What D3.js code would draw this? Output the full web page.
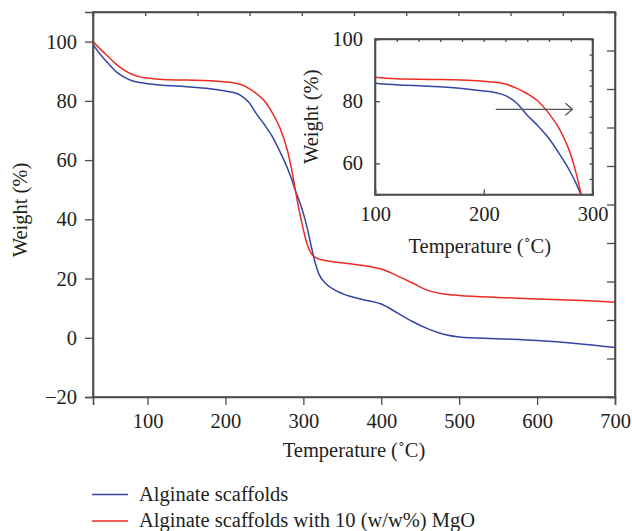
<!DOCTYPE html>
<html>
<head>
<meta charset="utf-8">
<script src="https://cdn.jsdelivr.net/npm/d3@7"></script>
<style>
  body { margin: 0; background: #fff; }
  svg { display: block; }
  text { font-family: "Liberation Serif", "Times New Roman", serif; fill: #231f20; }
</style>
</head>
<body>
<div id="chart"></div>
<script>
// temperature (°C) sample points
var temps = [30, 40, 50, 60, 70, 80, 90, 100, 120, 150, 180, 200, 210, 220, 230, 240, 250, 260, 270, 280, 285, 290, 295, 300, 305, 310, 315, 320, 330, 340, 360, 380, 400, 420, 440, 460, 480, 500, 550, 600, 650, 700];
// weight (%) of alginate scaffolds
var alginate = [99, 95.5, 92.5, 89.8, 88, 86.8, 86.2, 85.8, 85.3, 84.8, 84.1, 83.3, 82.8, 81.8, 79.5, 75.5, 72, 68, 62.8, 57, 53.5, 49.5, 46, 42, 37, 31, 25.5, 21.5, 18, 16.2, 14, 12.7, 11.4, 8.5, 5.5, 3, 1.2, 0.3, -0.3, -0.9, -1.9, -3.3];
// weight (%) of alginate scaffolds with 10 (w/w%) MgO
var alginateMgO = [100, 97.3, 94.8, 92.3, 90.4, 89, 88.1, 87.7, 87.2, 87, 86.8, 86.4, 86.1, 85.5, 84.2, 82.4, 80, 76, 70.8, 62.8, 56.8, 49.5, 42.5, 36.5, 31.5, 28.5, 27.2, 26.6, 26, 25.6, 25, 24.3, 23.2, 21, 18.5, 16, 14.8, 14.3, 13.6, 13.1, 12.7, 12];

var seriesNames = ["Alginate scaffolds", "Alginate scaffolds with 10 (w/w%) MgO"];
var seriesColors = ["#3445a3", "#ee2a25"];

var mainXTicks = [100, 200, 300, 400, 500, 600, 700];
var mainYTicks = [-20, 0, 20, 40, 60, 80, 100];
var insetXTicks = [100, 200, 300];
var insetYTicks = [60, 80, 100];

var W = 632, H = 531;
var axisColor = "#4d4d4d";
var fs = 20.5;

var svg = d3.select("#chart").append("svg")
    .attr("width", W)
    .attr("height", H);

var series = [alginate, alginateMgO].map(function (vals, i) {
    return { name: seriesNames[i], color: seriesColors[i], points: temps.map(function (t, j) { return [t, vals[j]]; }) };
});

// ---------- main plot ----------
var box = { left: 93, top: 12, right: 615, bottom: 397 };

var x = d3.scaleLinear().domain([30, 700]).range([box.left, box.right]);
var y = d3.scaleLinear().domain([-20, 110]).range([box.bottom, box.top]);

var line = d3.line()
    .x(function (d) { return x(d[0]); })
    .y(function (d) { return y(d[1]); })
    .curve(d3.curveMonotoneX);

svg.append("g").selectAll("path")
    .data(series)
    .enter().append("path")
    .attr("d", function (d) { return line(d.points); })
    .attr("fill", "none")
    .attr("stroke", function (d) { return d.color; })
    .attr("stroke-width", 1.5);

// bottom axis, outward ticks with minor ones
var xAxis = svg.append("g").attr("transform", "translate(0," + box.bottom + ")");
xAxis.call(d3.axisBottom(x).tickValues(d3.range(50, 701, 50)).tickSize(5).tickFormat(""));
xAxis.call(d3.axisBottom(x).tickValues(mainXTicks).tickSize(8).tickPadding(8).tickFormat(d3.format("d")));

var yAxis = svg.append("g").attr("transform", "translate(" + box.left + ",0)");
yAxis.call(d3.axisLeft(y).tickValues(d3.range(-10, 111, 10)).tickSize(5).tickFormat(""));
yAxis.call(d3.axisLeft(y).tickValues(mainYTicks).tickSize(8).tickPadding(8)
    .tickFormat(function (d) { return d < 0 ? "\u2212" + Math.abs(d) : d; }));

// top and right, inward ticks with ten divisions
var topScale = d3.scaleLinear().domain([0, 10]).range([box.left, box.right]);
var rightScale = d3.scaleLinear().domain([0, 10]).range([box.bottom, box.top]);
svg.append("g").attr("transform", "translate(0," + box.top + ")")
    .call(d3.axisBottom(topScale).tickValues(d3.range(1, 10)).tickSize(4).tickFormat(""));
svg.append("g").attr("transform", "translate(" + box.right + ",0)")
    .call(d3.axisLeft(rightScale).tickValues(d3.range(1, 10)).tickSize(8).tickFormat(""));

svg.append("rect")
    .attr("x", box.left).attr("y", box.top)
    .attr("width", box.right - box.left).attr("height", box.bottom - box.top)
    .attr("fill", "none").attr("stroke", axisColor).attr("stroke-width", 1.6);

svg.append("text")
    .attr("x", (box.left + box.right) / 2)
    .attr("y", 457)
    .attr("text-anchor", "middle")
    .style("font-size", fs + "px")
    .text("Temperature (\u02DAC)");

svg.append("text")
    .attr("transform", "translate(27,210) rotate(-90)")
    .attr("text-anchor", "middle")
    .style("font-size", fs + "px")
    .text("Weight (%)");

// ---------- inset ----------
var ib = { left: 375, top: 39, right: 592.5, bottom: 194.5 };
var ix = d3.scaleLinear().domain([100, 300]).range([ib.left, ib.right]);
var iy = d3.scaleLinear().domain([50, 100]).range([ib.bottom, ib.top]);

svg.append("defs").append("clipPath").attr("id", "insetClip")
    .append("rect")
    .attr("x", ib.left).attr("y", ib.top)
    .attr("width", ib.right - ib.left).attr("height", ib.bottom - ib.top);

var iline = d3.line()
    .x(function (d) { return ix(d[0]); })
    .y(function (d) { return iy(d[1]); })
    .curve(d3.curveMonotoneX);

svg.append("g").attr("clip-path", "url(#insetClip)")
    .selectAll("path")
    .data(series)
    .enter().append("path")
    .attr("d", function (d) { return iline(d.points); })
    .attr("fill", "none")
    .attr("stroke", function (d) { return d.color; })
    .attr("stroke-width", 1.5);

// inset ticks all point inward
var ixb = svg.append("g").attr("transform", "translate(0," + ib.bottom + ")");
ixb.call(d3.axisTop(ix).tickValues([150, 250]).tickSize(3).tickFormat(""));
ixb.call(d3.axisTop(ix).tickValues(insetXTicks).tickSize(5).tickFormat(""));
svg.append("g").attr("transform", "translate(0," + ib.bottom + ")")
    .call(d3.axisBottom(ix).tickValues(insetXTicks).tickSize(0).tickPadding(12).tickFormat(d3.format("d")))
    .call(function (g) { g.select(".domain").remove(); });

var ixt = svg.append("g").attr("transform", "translate(0," + ib.top + ")");
ixt.call(d3.axisBottom(ix).tickValues(d3.range(120, 300, 20)).tickSize(3).tickFormat(""));

var iyl = svg.append("g").attr("transform", "translate(" + ib.left + ",0)");
iyl.call(d3.axisRight(iy).tickValues([70, 90]).tickSize(3).tickFormat(""));
iyl.call(d3.axisRight(iy).tickValues(insetYTicks).tickSize(5).tickFormat(""));
svg.append("g").attr("transform", "translate(" + ib.left + ",0)")
    .call(d3.axisLeft(iy).tickValues(insetYTicks).tickSize(0).tickPadding(12).tickFormat(d3.format("d")))
    .call(function (g) { g.select(".domain").remove(); });

var iyr = svg.append("g").attr("transform", "translate(" + ib.right + ",0)");
iyr.call(d3.axisLeft(iy).tickValues(d3.range(55, 100, 5)).tickSize(3).tickFormat(""));

svg.append("rect")
    .attr("x", ib.left).attr("y", ib.top)
    .attr("width", ib.right - ib.left).attr("height", ib.bottom - ib.top)
    .attr("fill", "none").attr("stroke", axisColor).attr("stroke-width", 1.6);

// arrow in the inset
var arrowFrom = [211, 77.4], arrowTo = [281.5, 77.4];
svg.append("line")
    .attr("x1", ix(arrowFrom[0])).attr("y1", iy(arrowFrom[1]))
    .attr("x2", ix(arrowTo[0])).attr("y2", iy(arrowTo[1]))
    .attr("stroke", "#555").attr("stroke-width", 1.3);
svg.append("path")
    .attr("d", "M" + (ix(arrowTo[0]) - 7) + "," + (iy(arrowTo[1]) - 6) +
        "L" + ix(arrowTo[0]) + "," + iy(arrowTo[1]) +
        "L" + (ix(arrowTo[0]) - 7) + "," + (iy(arrowTo[1]) + 6))
    .attr("fill", "none").attr("stroke", "#555").attr("stroke-width", 1.3);

svg.append("text")
    .attr("x", (ib.left + ib.right) / 2 - 4)
    .attr("y", 253)
    .attr("text-anchor", "middle")
    .style("font-size", fs + "px")
    .text("Temperature (\u02DAC)");

svg.append("text")
    .attr("transform", "translate(318," + ((ib.top + ib.bottom) / 2) + ") rotate(-90)")
    .attr("text-anchor", "middle")
    .style("font-size", fs + "px")
    .text("Weight (%)");

// style all axes the same
svg.selectAll(".domain").attr("stroke", axisColor).attr("stroke-width", 1.6);
svg.selectAll(".tick line").attr("stroke", axisColor).attr("stroke-width", 1.3);
svg.selectAll(".tick text").style("font-size", fs + "px").attr("fill", "#231f20")
    .style("font-family", "'Liberation Serif', 'Times New Roman', serif");

// ---------- legend ----------
var legend = svg.append("g").selectAll("g")
    .data(series)
    .enter().append("g")
    .attr("transform", function (d, i) { return "translate(92," + (494.5 + i * 26.5) + ")"; });

legend.append("line")
    .attr("x1", 0).attr("x2", 36)
    .attr("stroke", function (d) { return d.color; })
    .attr("stroke-width", 1.5);

legend.append("text")
    .attr("x", 47)
    .attr("y", 6)
    .style("font-size", fs + "px")
    .text(function (d) { return d.name; });
</script>
</body>
</html>
